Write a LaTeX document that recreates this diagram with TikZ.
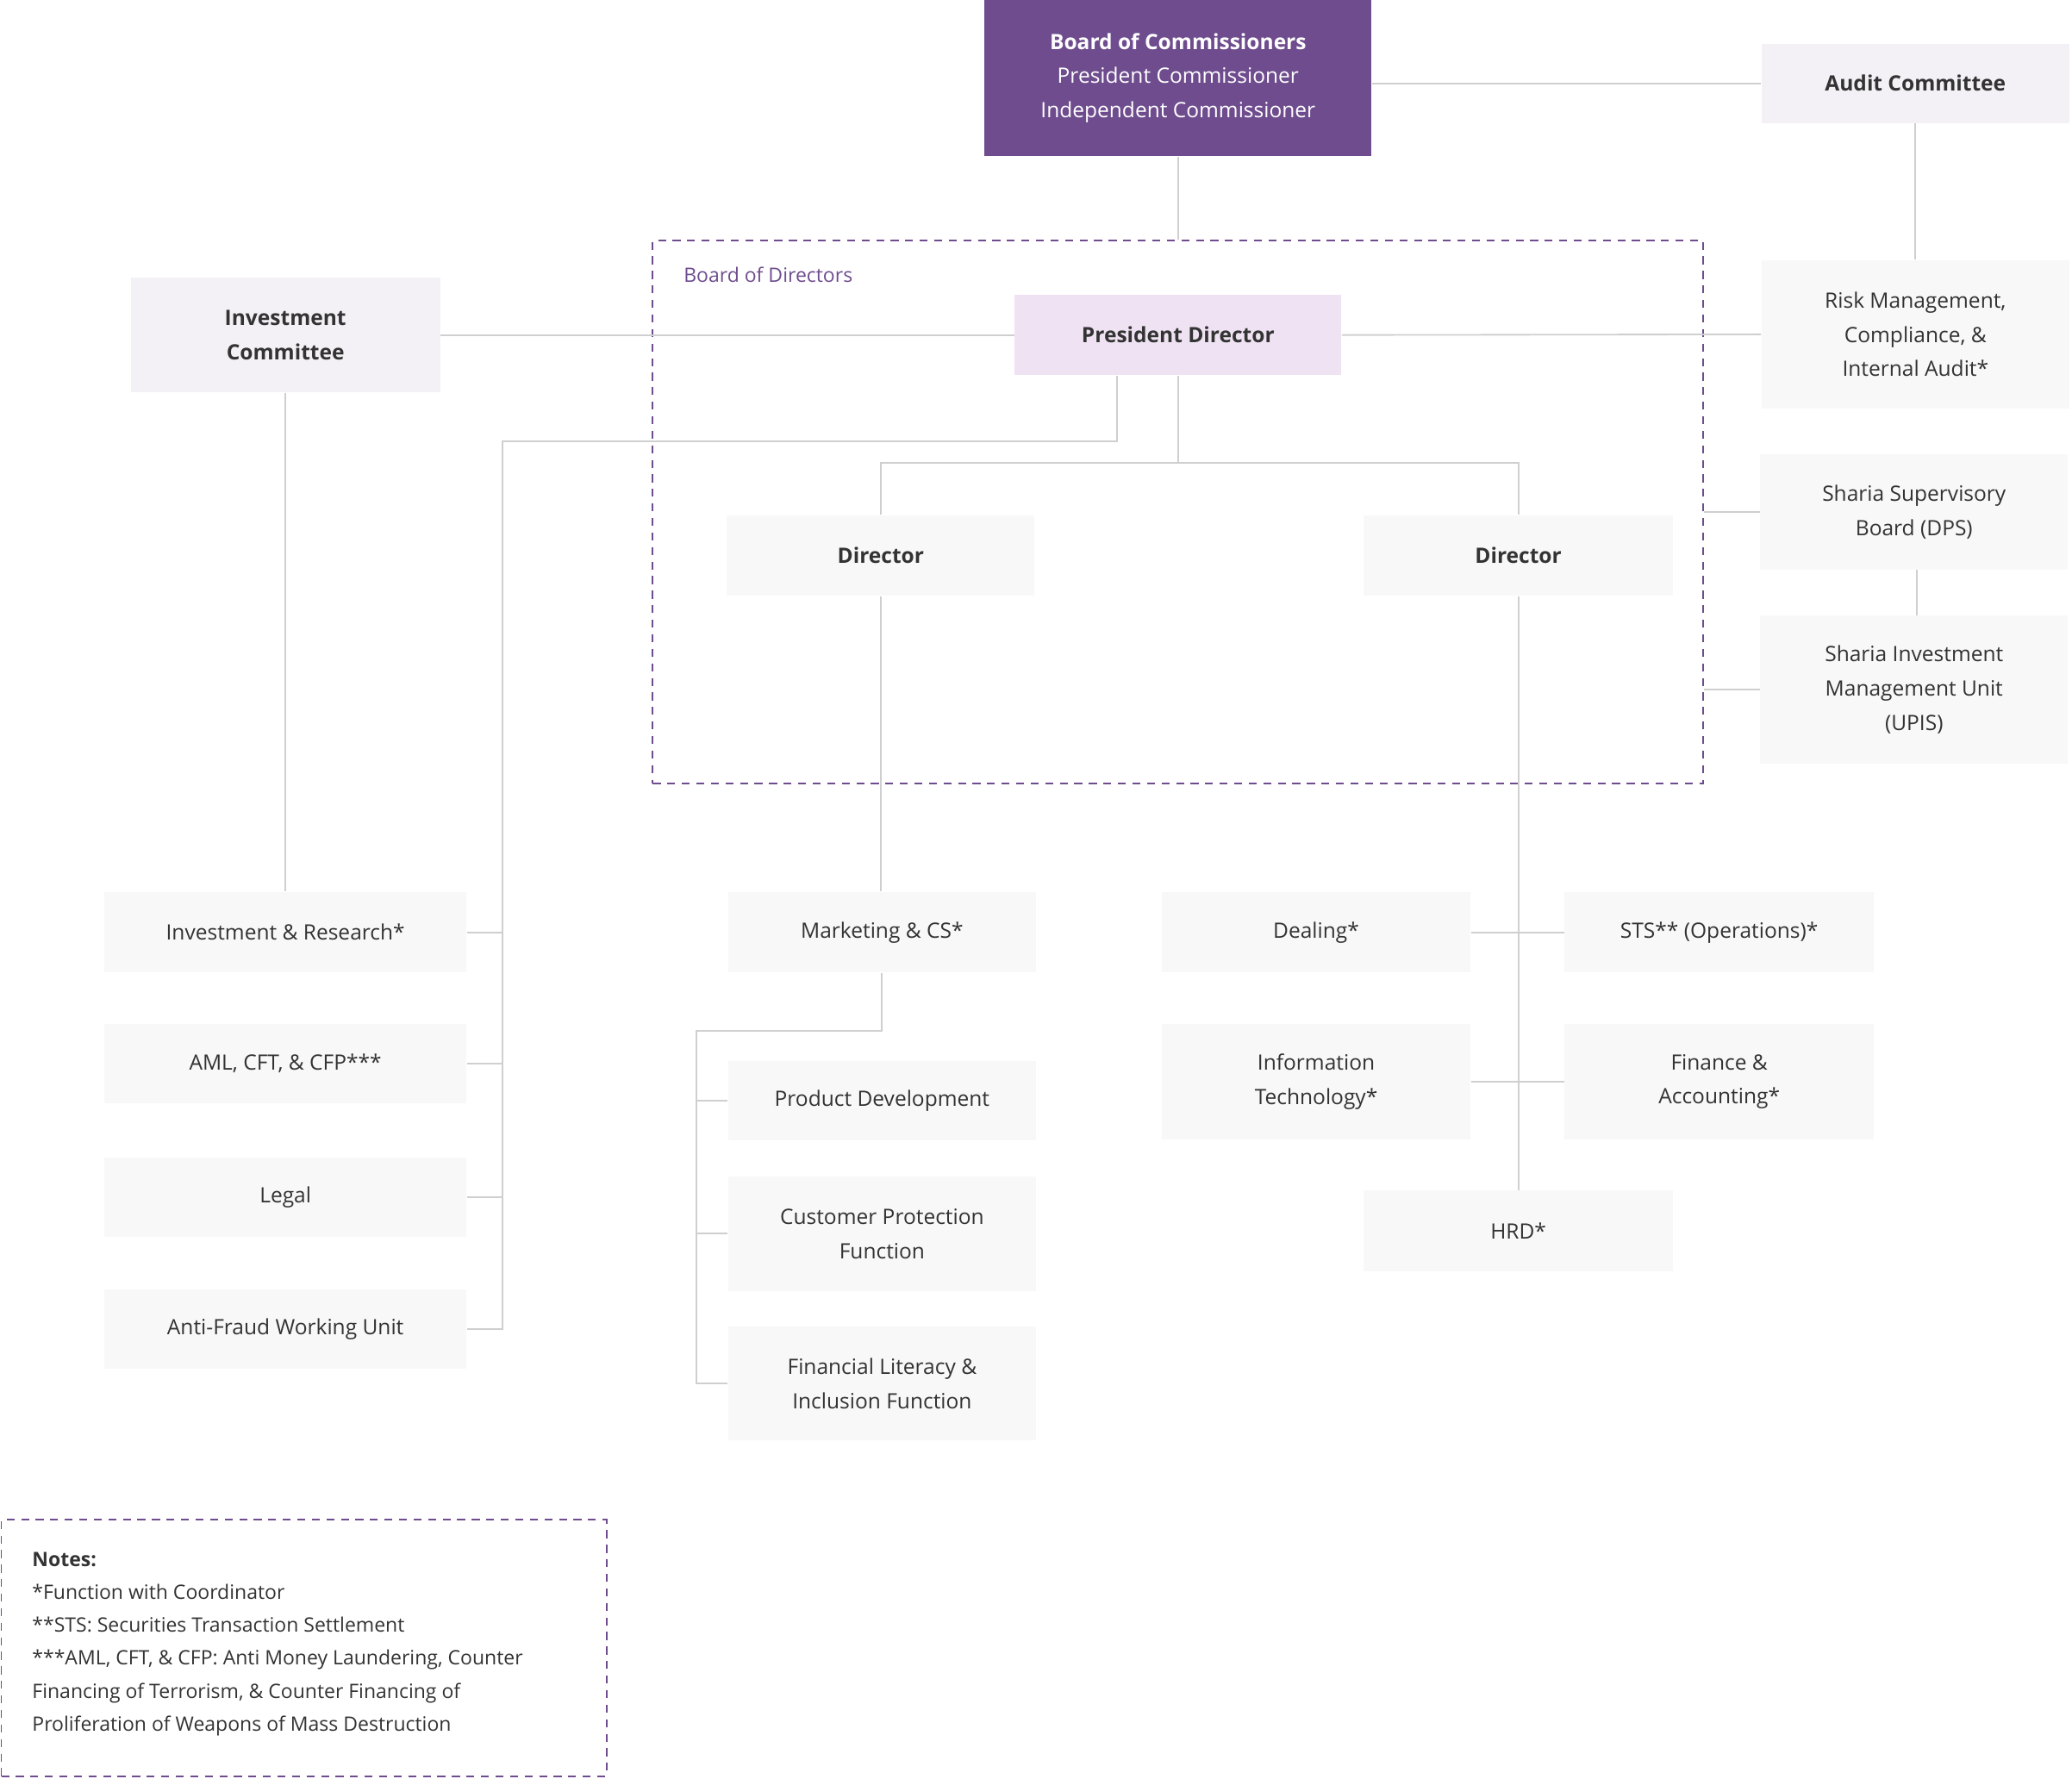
\documentclass[tikz,border=0pt]{standalone}
\usepackage{fontspec}
\setmainfont{Open Sans}
\definecolor{boardpurple}{HTML}{6E4C8E}
\definecolor{lightpurple}{HTML}{EFE3F3}
\definecolor{palepurple}{HTML}{F3F1F6}
\definecolor{boxgray}{HTML}{F8F8F8}
\definecolor{linegray}{HTML}{CFCFCF}
\definecolor{txt}{HTML}{333333}
\tikzset{
  unit/.style={fill=boxgray, text=txt, align=center, inner sep=0pt, font=\fontsize{8}{13}\selectfont},
  link/.style={draw=linegray, line width=0.6pt},
  frame/.style={draw=boardpurple, dashed, dash pattern=on 3pt off 2.5pt, line width=0.6pt, inner sep=0pt}
}
\begin{document}
\begin{tikzpicture}[x=0.5pt,y=-0.5pt]
\useasboundingbox (0,0) rectangle (1568,1346);
% board frames
\node[frame, minimum width=397.5pt, minimum height=205.5pt] (bod) at (891.5,387.5) {};
\node[anchor=north west, text=boardpurple, font=\fontsize{7.5}{9}\selectfont, inner sep=0pt] (bodlabel) at (517,202) {Board of Directors};
% top level
\node[unit, fill=boardpurple, text=white, minimum width=146.5pt, minimum height=59pt] (boc) at (891.5,59) {\textbf{Board of Commissioners}\\President Commissioner\\Independent Commissioner};
\node[unit, fill=palepurple, minimum width=116.5pt, minimum height=30pt] (audit) at (1449.5,63) {\textbf{Audit Committee}};
\node[unit, fill=palepurple, minimum width=117pt, minimum height=43.5pt] (invcom) at (216,253.5) {\textbf{Investment}\\\textbf{Committee}};
\node[unit, fill=lightpurple, minimum width=123.5pt, minimum height=30.5pt] (pd) at (891.5,253.5) {\textbf{President Director}};
\node[unit, minimum width=116.5pt, minimum height=56pt] (risk) at (1449.5,253) {Risk Management,\\Compliance, \&\\Internal Audit*};
\node[unit, minimum width=116.5pt, minimum height=43.5pt] (dps) at (1448.5,387.5) {Sharia Supervisory\\Board (DPS)};
\node[unit, minimum width=116.5pt, minimum height=56pt] (upis) at (1448.5,522) {Sharia Investment\\Management Unit\\(UPIS)};
\node[unit, minimum width=116.5pt, minimum height=30.5pt] (dirl) at (666.5,420.5) {\textbf{Director}};
\node[unit, minimum width=117pt, minimum height=30.5pt] (dirr) at (1149,420.5) {\textbf{Director}};
% left column
\node[unit, minimum width=137pt, minimum height=30.5pt] (invres) at (216,705.5) {Investment \& Research*};
\node[unit, minimum width=137pt, minimum height=30pt] (aml) at (216,805) {AML, CFT, \& CFP***};
\node[unit, minimum width=137pt, minimum height=30pt] (legal) at (216,906) {Legal};
\node[unit, minimum width=137pt, minimum height=30pt] (fraud) at (216,1006) {Anti-Fraud Working Unit};
% middle column
\node[unit, minimum width=116.5pt, minimum height=30.5pt] (mkt) at (667.5,705.5) {Marketing \& CS*};
\node[unit, minimum width=116.5pt, minimum height=30pt] (prod) at (667.5,833) {Product Development};
\node[unit, minimum width=116.5pt, minimum height=43.5pt] (cpf) at (667.5,933.5) {Customer Protection\\Function};
\node[unit, minimum width=116.5pt, minimum height=43pt] (fli) at (667.5,1047) {Financial Literacy \&\\Inclusion Function};
% right column
\node[unit, minimum width=117pt, minimum height=30.5pt] (deal) at (996,705.5) {Dealing*};
\node[unit, minimum width=117pt, minimum height=30.5pt] (sts) at (1301,705.5) {STS** (Operations)*};
\node[unit, minimum width=117pt, minimum height=43.5pt] (it) at (996,818.5) {Information\\Technology*};
\node[unit, minimum width=117pt, minimum height=43.5pt] (fin) at (1301,818.5) {Finance \&\\Accounting*};
\node[unit, minimum width=117pt, minimum height=30.5pt] (hrd) at (1149,931.5) {HRD*};
% notes
\node[frame, minimum width=229pt, minimum height=97pt] (notes) at (230,1247) {};
\node[anchor=north west, align=left, text=txt, inner sep=0pt, font=\fontsize{7.5}{12.5}\selectfont] (notestext) at (24,1174) {\textbf{Notes:}\\*Function with Coordinator\\**STS: Securities Transaction Settlement\\***AML, CFT, \& CFP: Anti Money Laundering, Counter\\Financing of Terrorism, \& Counter Financing of\\Proliferation of Weapons of Mass Destruction};
% connectors
\draw[link] (boc.east |- audit.west) -- (audit.west);
\draw[link] (boc.south) -- (bod.north -| boc.south);
\draw[link] (audit.south) -- (risk.north);
\draw[link] (invcom.east) -- (pd.west);
\draw[link] (pd.east) -- (risk.west);
\draw[link] (invcom.south) -- (invres.north);
\coordinate (lbus) at (380,334);
\draw[link] ([xshift=-23pt]pd.south) |- (lbus) -- (lbus |- fraud.east) -- (fraud.east);
\foreach \n in {invres,aml,legal} \draw[link] (\n.east) -- (lbus |- \n.east);
\coordinate (dbus) at (891.5,350);
\draw[link] (pd.south) -- (dbus);
\draw[link] (dirl.north) |- (dbus) -| (dirr.north);
\draw[link] (dirl.south) -- (mkt.north -| dirl.south);
\coordinate (mbus) at (527,780);
\draw[link] (mkt.south) |- (mbus) -- (mbus |- fli.west) -- (fli.west);
\foreach \n in {prod,cpf} \draw[link] (\n.west) -- (mbus |- \n.west);
\draw[link] (dirr.south) -- (hrd.north -| dirr.south);
\draw[link] (deal.east) -- (sts.west);
\draw[link] (it.east) -- (fin.west);
\draw[link] (bod.east |- dps.west) -- (dps.west);
\draw[link] (bod.east |- upis.west) -- (upis.west);
\draw[link] ([xshift=1pt]dps.south) -- ([xshift=1pt]upis.north);
\end{tikzpicture}
\end{document}
